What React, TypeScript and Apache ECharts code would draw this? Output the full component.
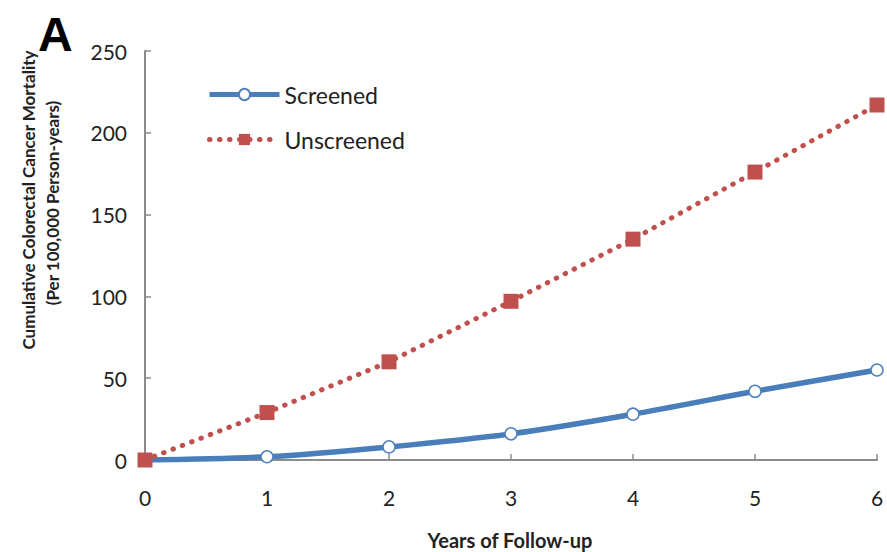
import React, { useEffect, useRef } from "react";
import * as echarts from "echarts";

const years = [0, 1, 2, 3, 4, 5, 6];
const screened = [0, 2, 8, 16, 28, 42, 55];
const unscreened = [0, 29, 60, 97, 135, 176, 217];
const yTicks = [0, 50, 100, 150, 200, 250];
const seriesNames = ["Screened", "Unscreened"];

const FONT = "Lato, 'Open Sans', sans-serif";

export default function App() {
  const ref = useRef<HTMLDivElement>(null);
  useEffect(() => {
    if (!ref.current) return;
    const chart = echarts.init(ref.current, undefined, { renderer: "svg" });
    chart.setOption({
      animation: false,
      backgroundColor: "#ffffff",
      textStyle: { fontFamily: FONT },
      grid: { left: 145, right: 10, top: 51, bottom: 92, containLabel: false },
      legend: {
        orient: "vertical",
        left: 202,
        top: 78,
        itemWidth: 70,
        itemHeight: 14,
        itemGap: 22,
        data: seriesNames,
        lineStyle: { width: 5 },
        textStyle: { fontSize: 23, color: "#222", fontFamily: FONT },
      },
      xAxis: {
        type: "value",
        min: years[0],
        max: years[years.length - 1],
        interval: 1,
        axisLine: { show: true, lineStyle: { color: "#8c8c8c", width: 2 } },
        axisTick: { show: true, inside: true, length: 6, lineStyle: { color: "#8c8c8c", width: 1.5 } },
        axisLabel: { fontSize: 21, color: "#222", margin: 27, fontFamily: FONT },
        splitLine: { show: false },
      },
      yAxis: {
        type: "value",
        min: yTicks[0],
        max: yTicks[yTicks.length - 1],
        interval: 50,
        axisLine: { show: true, lineStyle: { color: "#8c8c8c", width: 2 } },
        axisTick: { show: true, inside: true, length: 6, lineStyle: { color: "#8c8c8c", width: 1.5 } },
        axisLabel: { fontSize: 21, color: "#222", margin: 18, fontFamily: FONT },
        splitLine: { show: false },
      },
      graphic: [
        {
          type: "text",
          left: 38,
          top: 10,
          style: { text: "A", font: "bold 48px 'Liberation Sans', Arial, sans-serif", fill: "#000" },
        },
        {
          type: "text",
          x: 28,
          y: 200,
          rotation: Math.PI / 2,
          style: {
            text: "Cumulative Colorectal Cancer Mortality",
            font: `bold 17px ${FONT}`,
            fill: "#222",
            align: "center",
            verticalAlign: "middle",
          },
        },
        {
          type: "text",
          x: 52,
          y: 203,
          rotation: Math.PI / 2,
          style: {
            text: "(Per 100,000 Person-years)",
            font: `bold 17px ${FONT}`,
            fill: "#222",
            align: "center",
            verticalAlign: "middle",
          },
        },
        {
          type: "text",
          x: 510,
          y: 540,
          style: {
            text: "Years of Follow-up",
            font: `bold 20px ${FONT}`,
            fill: "#222",
            align: "center",
            verticalAlign: "middle",
          },
        },
      ],
      series: [
        {
          name: seriesNames[0],
          type: "line",
          data: years.map((x, i) => [x, screened[i]]),
          smooth: 0.3,
          symbol: "circle",
          symbolSize: 12,
          itemStyle: { color: "#ffffff", borderColor: "#4f81bd", borderWidth: 1.5 },
          lineStyle: { color: "#4a7ebb", width: 5.5 },
          z: 2,
        },
        {
          name: seriesNames[1],
          type: "line",
          data: years.map((x, i) => [x, unscreened[i]]),
          symbol: "rect",
          symbolSize: 15,
          itemStyle: { color: "#c0504d" },
          lineStyle: { color: "#c0504d", width: 5, type: [0.5, 9.5], cap: "round" },
          z: 3,
        },
      ],
    });
    return () => chart.dispose();
  }, []);
  return <div ref={ref} style={{ width: 887, height: 552, position: "absolute", left: 0, top: 0 }} />;
}
